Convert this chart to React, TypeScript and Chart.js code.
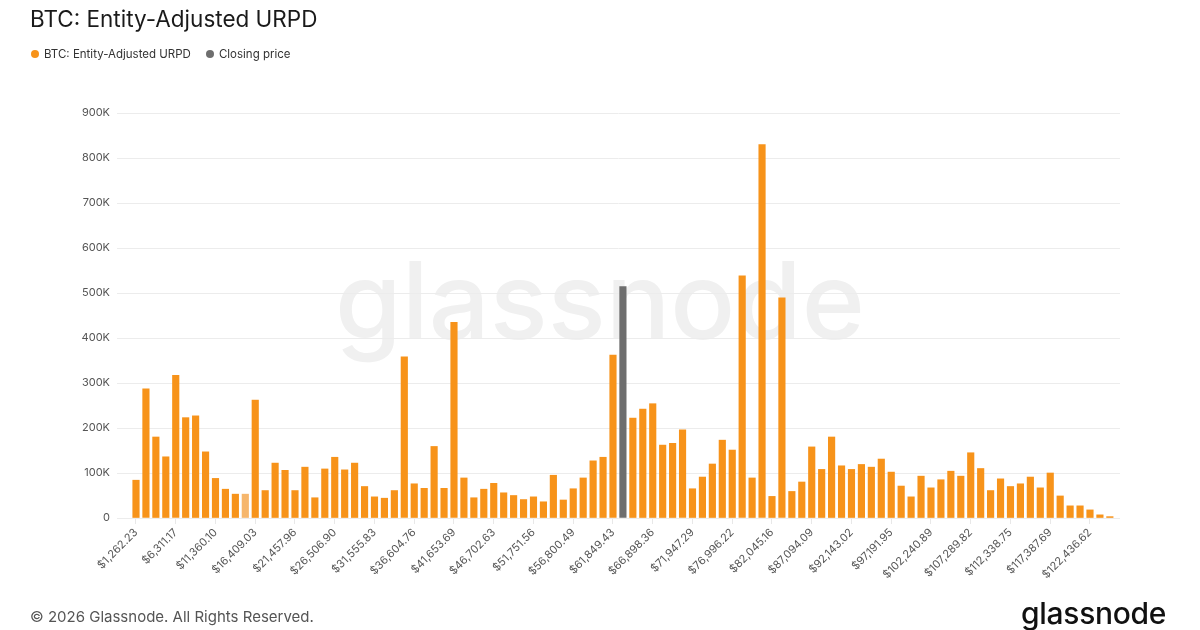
import React, { useEffect, useRef } from "react";
import { Chart, registerables } from "chart.js";

Chart.register(...registerables);

// Bucket width (USD) of the URPD price buckets; bucket k sits at k * STEP
const STEP = 1262.233176;

// Bucket indices 1..99
const BUCKETS: number[] = [
  1, 2, 3, 4, 5, 6, 7, 8, 9, 10, 11, 12, 13, 14, 15, 16, 17, 18, 19, 20,
  21, 22, 23, 24, 25, 26, 27, 28, 29, 30, 31, 32, 33, 34, 35, 36, 37, 38, 39, 40,
  41, 42, 43, 44, 45, 46, 47, 48, 49, 50, 51, 52, 53, 54, 55, 56, 57, 58, 59, 60,
  61, 62, 63, 64, 65, 66, 67, 68, 69, 70, 71, 72, 73, 74, 75, 76, 77, 78, 79, 80,
  81, 82, 83, 84, 85, 86, 87, 88, 89, 90, 91, 92, 93, 94, 95, 96, 97, 98, 99,
];

// Supply (BTC) per bucket, in thousands; null where the closing-price bar sits
const URPD_K: (number | null)[] = [
  84, 287, 180, 136, 317, 223, 227, 147, 88, 64,
  53, 53, 262, 61, 122, 106, 61, 113, 45, 109,
  135, 107, 122, 70, 47, 44, 61, 358, 76, 66,
  159, 66, 435, 89, 45, 64, 77, 56, 50, 41,
  47, 36, 95, 40, 65, 89, 127, 135, 362, null,
  222, 242, 254, 162, 166, 196, 65, 91, 120, 173,
  151, 538, 89, 830, 48, 489, 59, 80, 158, 108,
  180, 116, 108, 119, 113, 131, 102, 71, 47, 93,
  67, 85, 104, 93, 145, 110, 61, 87, 70, 76,
  91, 67, 100, 49, 27, 27, 18, 7, 3,
];

// Closing price bucket and its supply (thousands)
const CLOSE_BUCKET = 50;
const CLOSE_K = 514;

// Highlighted (lighter) bucket
const LIGHT_BUCKET = 12;

// X tick buckets and their labels
const TICK_BUCKETS: number[] = [1, 5, 9, 13, 17, 21, 25, 29, 33, 37, 41, 45, 49, 53, 57, 61, 65, 69, 73, 77, 81, 85, 89, 93, 97];
const TICK_LABELS: string[] = [
  "$1,262.23", "$6,311.17", "$11,360.10", "$16,409.03", "$21,457.96", "$26,506.90",
  "$31,555.83", "$36,604.76", "$41,653.69", "$46,702.63", "$51,751.56", "$56,800.49",
  "$61,849.43", "$66,898.36", "$71,947.29", "$76,996.22", "$82,045.16", "$87,094.09",
  "$92,143.02", "$97,191.95", "$102,240.89", "$107,289.82", "$112,338.75", "$117,387.69",
  "$122,436.62",
];

const Y_TICKS: string[] = ["0", "100K", "200K", "300K", "400K", "500K", "600K", "700K", "800K", "900K"];

const ORANGE = "#f7931a";
const LIGHT_ORANGE = "#f6b66c";
const GRAY = "#6e6e6e";
const FONT = "Inter, 'Noto Sans', sans-serif";

const watermark = {
  id: "watermark",
  beforeDraw(chart: any) {
    const { ctx } = chart;
    ctx.save();
    const text = "glassnode";
    const targetW = 530;
    ctx.font = `500 100px ${FONT}`;
    const w = ctx.measureText(text).width;
    const size = (100 * targetW) / w;
    ctx.font = `500 ${size}px ${FONT}`;
    ctx.fillStyle = "#f0f0f0";
    ctx.textAlign = "center";
    ctx.textBaseline = "alphabetic";
    ctx.fillText(text, 600, 339);
    ctx.restore();
  },
};

export default function App() {
  const ref = useRef<HTMLCanvasElement | null>(null);

  useEffect(() => {
    document.body.style.margin = "0";
    const canvas = ref.current;
    if (!canvas) return;

    const urpdData = BUCKETS.map((k, i) => ({ x: k * STEP, y: URPD_K[i] == null ? null : (URPD_K[i] as number) * 1000 }));
    const urpdColors = BUCKETS.map((k) => (k === LIGHT_BUCKET ? LIGHT_ORANGE : ORANGE));
    const closeData = [{ x: CLOSE_BUCKET * STEP, y: CLOSE_K * 1000 }];

    const chart = new Chart(canvas, {
      type: "bar",
      data: {
        datasets: [
          {
            label: "BTC: Entity-Adjusted URPD",
            data: urpdData as any,
            backgroundColor: urpdColors,
            borderWidth: 0,
            barThickness: 6.5,
            grouped: false,
          } as any,
          {
            label: "Closing price",
            data: closeData as any,
            backgroundColor: GRAY,
            borderWidth: 0,
            barThickness: 6.5,
            grouped: false,
          } as any,
        ],
      },
      options: {
        animation: false,
        responsive: false,
        maintainAspectRatio: false,
        devicePixelRatio: 1,
        layout: { padding: { top: 113, left: 0, right: 80, bottom: 0 } },
        plugins: {
          legend: { display: false },
          tooltip: { enabled: false },
          title: { display: false },
        },
        scales: {
          x: {
            type: "linear",
            offset: false,
            min: -1150,
            max: 126250,
            afterBuildTicks: (axis: any) => {
              axis.ticks = TICK_BUCKETS.map((k) => ({ value: k * STEP }));
            },
            afterFit: (scale: any) => {
              scale.height = 112;
            },
            ticks: {
              autoSkip: false,
              maxRotation: 45,
              minRotation: 45,
              padding: 2,
              color: "#555",
              font: { family: FONT, size: 11 },
              callback: (_v: any, i: number) => TICK_LABELS[i],
            },
            grid: {
              offset: false,
              drawOnChartArea: false,
              drawTicks: true,
              tickLength: 6,
              color: "#e8e8e8",
            },
            border: { display: false },
          },
          y: {
            min: 0,
            max: 900000,
            afterBuildTicks: (axis: any) => {
              axis.ticks = Y_TICKS.map((_, i) => ({ value: i * 100000 }));
            },
            afterFit: (scale: any) => {
              scale.width = 117;
            },
            ticks: {
              padding: 7,
              color: "#555",
              font: { family: FONT, size: 11 },
              callback: (_v: any, i: number) => Y_TICKS[i],
            },
            grid: {
              color: "#ececec",
              drawTicks: false,
            },
            border: { display: false },
          },
        },
      },
      plugins: [watermark],
    });

    return () => chart.destroy();
  }, []);

  return (
    <div style={{ position: "relative", width: 1200, height: 630, background: "#fff", overflow: "hidden", fontFamily: FONT }}>
      <canvas ref={ref} width={1200} height={630} style={{ position: "absolute", left: 0, top: 0, width: 1200, height: 630 }} />
      <div style={{ position: "absolute", left: 30, top: 4, fontSize: 22.5, color: "#1a1a1a", fontWeight: 400, lineHeight: "30px" }}>
        BTC: Entity-Adjusted URPD
      </div>
      <div style={{ position: "absolute", left: 31, top: 46, fontSize: 11.5, color: "#333", display: "flex", alignItems: "center", lineHeight: "16px" }}>
        <span style={{ width: 8, height: 8, borderRadius: 4, background: ORANGE, display: "inline-block", marginRight: 5 }} />
        <span>BTC: Entity-Adjusted URPD</span>
        <span style={{ width: 8, height: 8, borderRadius: 4, background: GRAY, display: "inline-block", marginLeft: 15, marginRight: 5 }} />
        <span>Closing price</span>
      </div>
      <div style={{ position: "absolute", left: 30, top: 607, fontSize: 15, color: "#555", lineHeight: "20px" }}>
        © 2026 Glassnode. All Rights Reserved.
      </div>
      <div style={{ position: "absolute", left: 1021, top: 594, fontSize: 30, color: "#111", fontWeight: 500, lineHeight: "38px", letterSpacing: -0.3 }}>
        glassnode
      </div>
    </div>
  );
}
